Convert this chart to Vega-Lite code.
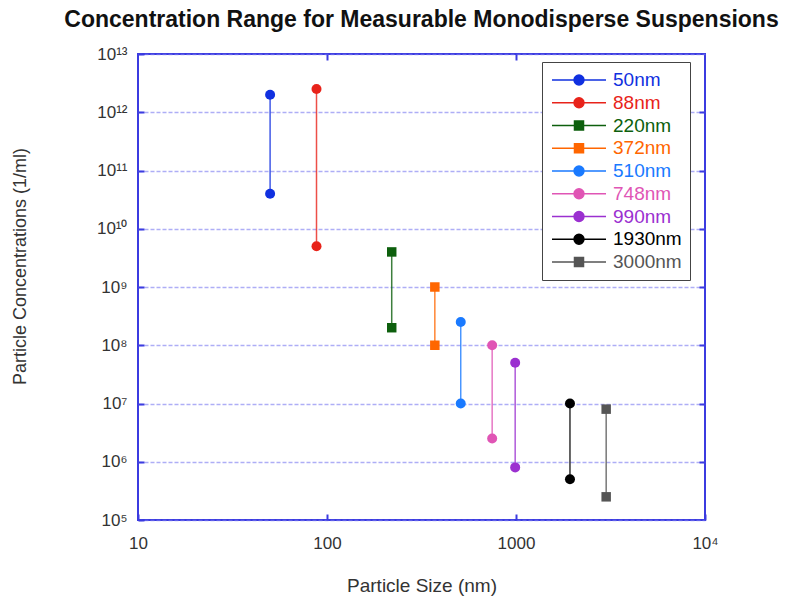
{
  "$schema": "https://vega.github.io/schema/vega-lite/v6.json",
  "autosize": {"type": "none"},
  "width": 567,
  "height": 466,
  "padding": {"left": 138, "top": 54, "right": 80, "bottom": 78},
  "title": {"text": "Concentration Range for Measurable Monodisperse Suspensions", "font": "Liberation Sans", "fontSize": 23, "fontWeight": "bold", "color": "#111111", "offset": 13},
  "config": {
    "view": {"stroke": "#3b3be0", "strokeWidth": 2},
    "axis": {"domain": false, "tickColor": "#3b3be0", "tickWidth": 2, "tickSize": -6, "labelFont": "Liberation Sans", "labelFontSize": 17, "labelColor": "#333333", "titleFont": "Liberation Sans", "titleFontSize": 18, "titleFontWeight": "normal", "titleColor": "#333333", "gridColor": "#7878f0", "gridDash": [4, 2], "gridWidth": 1.5, "gridOpacity": 0.6}
  },
  "data": {"values": [
    {"series": "50nm", "size": 50, "conc": 2e12},
    {"series": "50nm", "size": 50, "conc": 4e10},
    {"series": "88nm", "size": 88, "conc": 2.5e12},
    {"series": "88nm", "size": 88, "conc": 5e9},
    {"series": "220nm", "size": 220, "conc": 4e9},
    {"series": "220nm", "size": 220, "conc": 2e8},
    {"series": "372nm", "size": 372, "conc": 1e9},
    {"series": "372nm", "size": 372, "conc": 1e8},
    {"series": "510nm", "size": 510, "conc": 2.5e8},
    {"series": "510nm", "size": 510, "conc": 1e7},
    {"series": "748nm", "size": 748, "conc": 1e8},
    {"series": "748nm", "size": 748, "conc": 2.5e6},
    {"series": "990nm", "size": 990, "conc": 5e7},
    {"series": "990nm", "size": 990, "conc": 8e5},
    {"series": "1930nm", "size": 1930, "conc": 1e7},
    {"series": "1930nm", "size": 1930, "conc": 5e5},
    {"series": "3000nm", "size": 3000, "conc": 8e6},
    {"series": "3000nm", "size": 3000, "conc": 2.5e5}
  ]},
  "layer": [
    {
      "mark": {"type": "line", "strokeWidth": 1.5, "opacity": 0.8},
      "encoding": {
        "x": {"field": "size", "type": "quantitative", "scale": {"type": "log", "domain": [10, 10000]},
              "axis": {"orient": "bottom", "values": [10, 100, 1000, 10000], "grid": false, "labelFlush": false, "labelPadding": 21,
                       "labelExpr": "datum.value >= 10000 ? '10⁴' : '' + datum.value", "title": "Particle Size (nm)", "titleFontSize": 19, "titleY": 56, "titleBaseline": "top"}},
        "y": {"field": "conc", "type": "quantitative", "scale": {"type": "log", "domain": [1e5, 1e13]},
              "axis": {"orient": "left", "values": [1e5, 1e6, 1e7, 1e8, 1e9, 1e10, 1e11, 1e12, 1e13], "grid": true, "labelFlush": false, "labelPadding": 17,
                       "labelExpr": "['','','','','','10⁵','10⁶','10⁷','10⁸','10⁹','10¹⁰','10¹¹','10¹²','10¹³'][round(log(datum.value)/LN10)]",
                       "title": "Particle Concentrations (1/ml)", "titleX": -109, "titleY": 212, "titleAlign": "center", "titleAngle": -90}},
        "detail": {"field": "series"},
        "color": {"field": "series", "type": "nominal",
                  "scale": {"domain": ["50nm", "88nm", "220nm", "372nm", "510nm", "748nm", "990nm", "1930nm", "3000nm"],
                            "range": ["#1030e0", "#e8231a", "#0d5f0d", "#ff6600", "#1a7aff", "#e055b5", "#9b30d0", "#000000", "#555555"]},
                  "legend": {"title": null, "orient": "none", "legendX": 404, "legendY": 8, "fillColor": "#ffffff", "strokeColor": "#444444",
                             "padding": 8, "symbolOffset": 19, "labelOffset": 24, "symbolSize": 324, "rowPadding": 2.75, "symbolStrokeWidth": 1.5, "symbolOpacity": 1,
                             "labelFont": "Liberation Sans", "labelFontSize": 19,
                             "encode": {
                               "symbols": {"update": {
                                 "shape": {"signal": "indexof(['220nm','372nm','3000nm'], datum.value) >= 0 ? 'M-3,0L3,0M-0.5,-0.5L0.5,-0.5L0.5,0.5L-0.5,0.5Z' : 'M-3,0L3,0M-0.55,0A0.55,0.55 0 1,0 0.55,0A0.55,0.55 0 1,0 -0.55,0Z'"},
                                 "fill": {"signal": "scale('color', datum.value)"},
                                 "stroke": {"signal": "scale('color', datum.value)"}}},
                               "labels": {"update": {"fill": {"signal": "scale('color', datum.value)"}}}
                             }}}
      }
    },
    {
      "transform": [{"filter": "indexof(['220nm','372nm','3000nm'], datum.series) < 0"}],
      "mark": {"type": "point", "shape": "circle", "filled": true, "size": 100, "opacity": 1},
      "encoding": {
        "x": {"field": "size", "type": "quantitative", "axis": {"orient": "top", "values": [100, 1000], "labels": false, "grid": false, "title": null}},
        "y": {"field": "conc", "type": "quantitative", "axis": {"orient": "right", "values": [1e6, 1e7, 1e8, 1e9, 1e10, 1e11, 1e12], "labels": false, "grid": false, "title": null}},
        "color": {"field": "series", "type": "nominal"}
      }
    },
    {
      "transform": [{"filter": "indexof(['220nm','372nm','3000nm'], datum.series) >= 0"}],
      "mark": {"type": "point", "shape": "square", "filled": true, "size": 90, "opacity": 1},
      "encoding": {
        "x": {"field": "size", "type": "quantitative", "axis": null},
        "y": {"field": "conc", "type": "quantitative", "axis": null},
        "color": {"field": "series", "type": "nominal"}
      }
    }
  ],
  "resolve": {"axis": {"x": "independent", "y": "independent"}}
}
